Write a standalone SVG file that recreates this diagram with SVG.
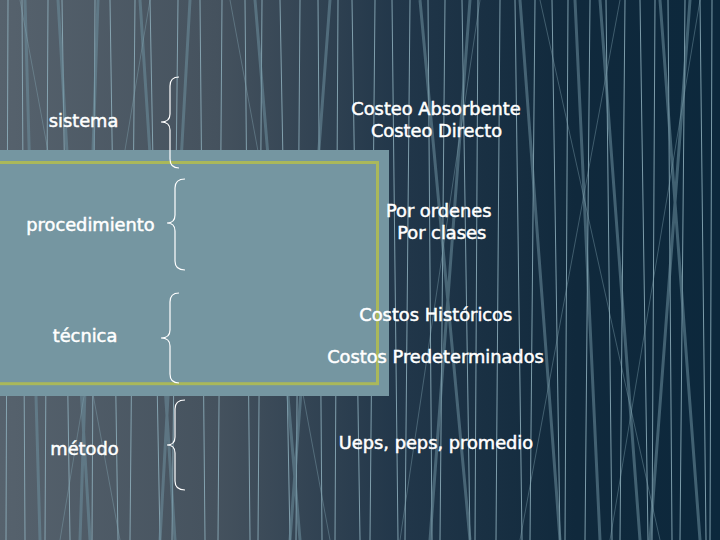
<svg xmlns="http://www.w3.org/2000/svg" width="720" height="540" viewBox="0 0 720 540">
<defs>
<linearGradient id="bg" x1="0" y1="0" x2="1" y2="0">
<stop offset="0" stop-color="#56626d"/>
<stop offset="0.3" stop-color="#45525e"/>
<stop offset="0.55" stop-color="#22374a"/>
<stop offset="0.8" stop-color="#10293c"/>
<stop offset="1" stop-color="#0c283c"/>
</linearGradient>
<style>
.thin{stroke:#8fb0bd;stroke-width:1;opacity:.85;fill:none}
.thick{stroke:#6d909e;stroke-width:3;opacity:.55;fill:none}
.diag{stroke:#88a9b6;stroke-width:1;opacity:.4;fill:none}
.lbl{font-family:"DejaVu Sans","Verdana",sans-serif;font-size:17.8px;fill:#ffffff;stroke:#ffffff;stroke-width:.5;text-anchor:middle}
.brace{fill:none;stroke:#ffffff;stroke-width:1.2}
</style>
</defs>
<rect width="720" height="540" fill="url(#bg)"/>
<g id="streaks">
<path class="thin" d="M8 0 L6 540 M22 0 L25 540 M48 0 L45 540 M62 0 L70 540 M95 0 L92 540 M110 0 L118 540 M135 0 L130 540 M150 0 L160 540 M178 0 L172 540 M200 0 L205 540 M222 0 L218 540 M245 0 L250 540 M262 0 L258 540 M280 0 L290 540 M300 0 L296 540 M318 0 L322 540 M338 0 L335 540 M352 0 L360 540 M375 0 L370 540 M392 0 L398 540 M410 0 L405 540 M428 0 L432 540 M445 0 L440 540 M462 0 L470 540 M478 0 L475 540 M500 0 L496 540 M515 0 L522 540 M535 0 L530 540 M552 0 L560 540 M568 0 L565 540 M590 0 L585 540 M606 0 L612 540 M625 0 L620 540 M640 0 L648 540 M655 0 L652 540 M668 0 L672 540 M685 0 L680 540 M700 0 L706 540 M712 0 L710 540"/>
<path class="thick" d="M25 0 L40 540 M58 0 L90 540 M140 0 L175 540 M190 0 L160 540 M255 0 L300 540 M330 0 L290 540 M420 0 L470 540 M470 0 L430 540 M520 0 L560 540 M600 0 L640 540 M660 0 L700 540 M690 0 L650 540 M98 0 L80 540 M575 0 L600 540"/>
<path class="diag" d="M230 0 L330 540 M480 0 L400 540 M540 0 L660 540 M620 0 L520 540 M20 0 L120 540 M150 0 L60 540 M700 0 L610 540"/>
</g>
<rect id="panel" x="0" y="150" width="389" height="246" fill="#7596a1"/>
<rect id="frame" x="-10" y="162.5" width="387.5" height="221.2" fill="none" stroke="#aab85a" stroke-width="3"/>
<g id="connectors">
<path class="brace" d="M179 77 Q170 77 170 86 L170 114 Q170 122 161 122 Q170 122 170 130 L170 159 Q170 168 179 168"/>
<path class="brace" d="M185 179 Q175 179 175 188 L175 215 Q175 223 167 223 Q175 223 175 231 L175 261 Q175 270 185 270"/>
<path class="brace" d="M179 293 Q170 293 170 302 L170 330 Q170 338 161 338 Q170 338 170 346 L170 374 Q170 383 179 383"/>
<path class="brace" d="M185 400 Q175 400 175 409 L175 437 Q175 445 167 445 Q175 445 175 453 L175 481 Q175 490 185 490"/>
</g>
<g id="sistema"><text class="lbl" x="83.5" y="127">sistema</text></g>
<g id="procedimiento"><text class="lbl" x="90.5" y="231">procedimiento</text></g>
<g id="tecnica"><text class="lbl" x="85" y="342">técnica</text></g>
<g id="metodo"><text class="lbl" x="84.5" y="455">método</text></g>
<g id="costeo"><text class="lbl" x="436" y="115">Costeo Absorbente</text><text class="lbl" x="436.5" y="137">Costeo Directo</text></g>
<g id="por"><text class="lbl" x="438.7" y="217">Por ordenes</text><text class="lbl" x="441.7" y="239">Por clases</text></g>
<g id="costos"><text class="lbl" x="435.8" y="321">Costos Históricos</text><text class="lbl" x="435.5" y="363">Costos Predeterminados</text></g>
<g id="ueps"><text class="lbl" x="436" y="449">Ueps, peps, promedio</text></g>
</svg>
